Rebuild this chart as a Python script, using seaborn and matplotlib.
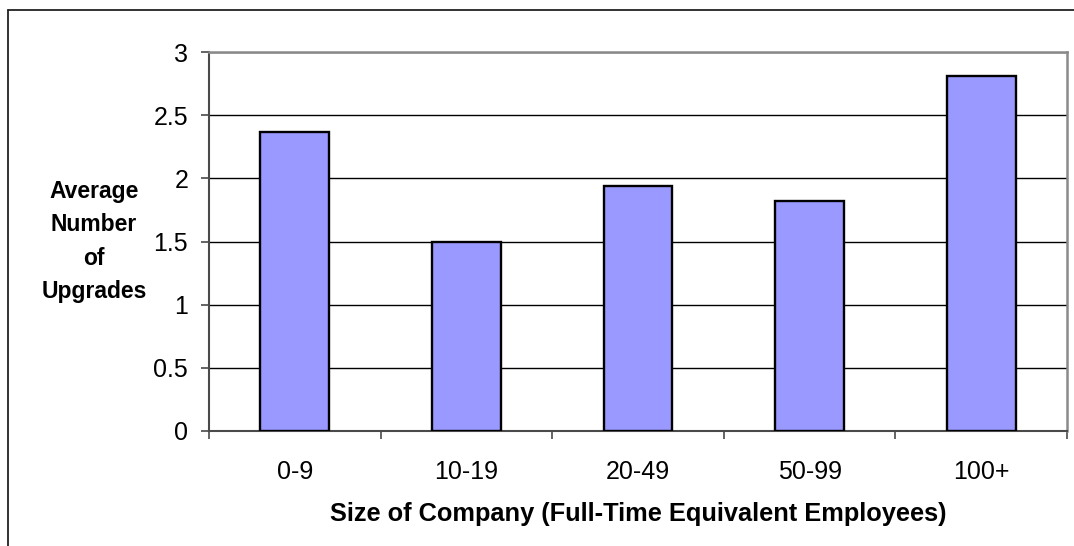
import matplotlib
matplotlib.use("Agg")
import matplotlib.pyplot as plt
from matplotlib.lines import Line2D
from matplotlib.ticker import MultipleLocator, FixedLocator, FuncFormatter
import seaborn as sns
import pandas as pd

# Company size bands and mean number of upgrades
sizes = ["0-9", "10-19", "20-49", "50-99", "100+"]
avg_upgrades = [2.37, 1.50, 1.94, 1.82, 2.81]

df = pd.DataFrame({"size": sizes, "upgrades": avg_upgrades})

sns.set_theme(style="white")
plt.rcParams["font.family"] = ["Liberation Sans", "DejaVu Sans"]

W, H = 1074, 546
fig = plt.figure(figsize=(W / 100, H / 100), dpi=100)
fig.patch.set_facecolor("white")

# plot area in pixel terms
left, top, right, bottom = 209, 52, 1067, 431
ax = fig.add_axes([left / W, 1 - bottom / H, (right - left) / W, (bottom - top) / H])

sns.barplot(data=df, x="size", y="upgrades", order=sizes, color="#9999FF",
            saturation=1, width=0.4, edgecolor="black", linewidth=1.7,
            ax=ax, zorder=3)

ax.set_xlim(-0.5, len(sizes) - 0.5)
ax.set_ylim(0, 3)
ax.yaxis.set_major_locator(MultipleLocator(0.5))
ax.yaxis.set_major_formatter(FuncFormatter(lambda v, _: f"{v:g}"))

# horizontal gridlines
ax.grid(axis="y", color="black", linewidth=1.0, zorder=0)
ax.grid(axis="x", visible=False)
ax.set_axisbelow(True)

# frame
for side in ["top", "right"]:
    ax.spines[side].set_color("#8a8a8a")
    ax.spines[side].set_linewidth(1.8)
for side in ["left", "bottom"]:
    ax.spines[side].set_color("#4a4a4a")
    ax.spines[side].set_linewidth(1.5)

# y ticks point outward
ax.tick_params(axis="y", which="major", direction="out", length=6, width=1.2,
               color="#4a4a4a", left=True, labelsize=18, pad=9, labelcolor="black")

# category labels centered, separator ticks between categories
ax.tick_params(axis="x", which="major", length=0, labelsize=18, pad=21, labelcolor="black")
ax.xaxis.set_minor_locator(FixedLocator([i - 0.5 for i in range(len(sizes) + 1)]))
ax.tick_params(axis="x", which="minor", direction="out", length=6, width=1.2,
               color="#4a4a4a", bottom=True)

ax.set_xlabel("Size of Company (Full-Time Equivalent Employees)", fontsize=18.3,
              fontweight="bold", labelpad=13, color="black")
ax.set_ylabel("Average\nNumber\nof\nUpgrades", fontsize=16.5, fontweight="bold",
              rotation=0, ha="center", va="center", linespacing=1.58, color="black")
ax.yaxis.set_label_coords((94 - left) / (right - left), 0.5)

# outer chart border (left and top edges)
fig.add_artist(Line2D([8 / W, 8 / W], [0, 1 - 10 / H], transform=fig.transFigure,
                      color="#222222", linewidth=1.3))
fig.add_artist(Line2D([8 / W, 1], [1 - 10 / H, 1 - 10 / H], transform=fig.transFigure,
                      color="#222222", linewidth=1.3))

fig.savefig("out.png", dpi=100, facecolor="white")
